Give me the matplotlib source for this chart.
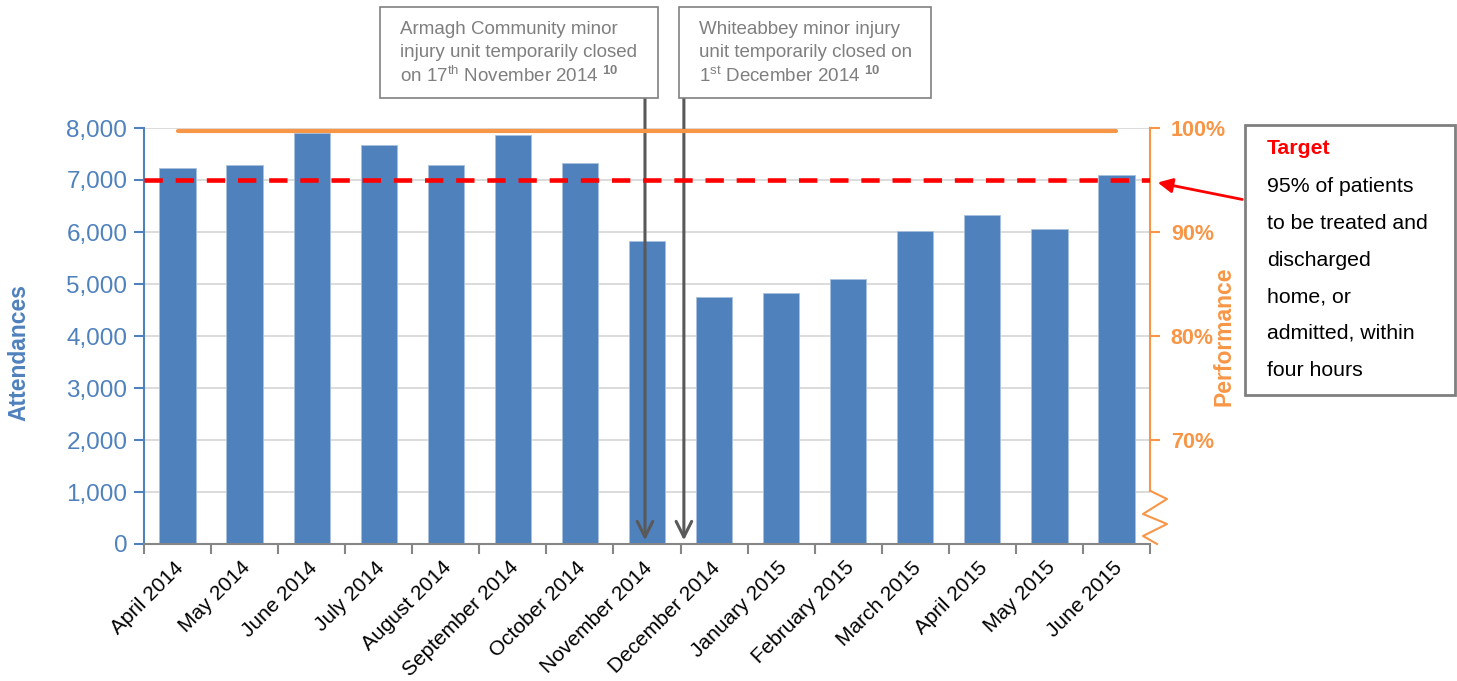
import numpy as np
import matplotlib.pyplot as plt
import matplotlib.transforms as mtransforms
from matplotlib.lines import Line2D
from matplotlib.patches import Rectangle, FancyArrowPatch
from matplotlib.ticker import FuncFormatter

plt.rcParams['font.family'] = ['Liberation Sans', 'DejaVu Sans']
plt.rcParams['mathtext.fontset'] = 'custom'
plt.rcParams['mathtext.rm'] = 'Liberation Sans'
plt.rcParams['mathtext.bf'] = 'Liberation Sans:bold'

# data
months = ['April 2014', 'May 2014', 'June 2014', 'July 2014', 'August 2014',
          'September 2014', 'October 2014', 'November 2014', 'December 2014',
          'January 2015', 'February 2015', 'March 2015', 'April 2015',
          'May 2015', 'June 2015']
attendances = [7240, 7290, 7910, 7670, 7290, 7865, 7330, 5830,
               4750, 4830, 5100, 6010, 6330, 6060, 7100]
performance = [99.7, 99.7, 99.7, 99.7, 99.7, 99.7, 99.7, 99.7,
               99.7, 99.7, 99.7, 99.7, 99.7, 99.7, 99.7]
target = 95

BLUE = '#4F81BD'
ORANGE = '#F79646'
GREY_TXT = '#7F7F7F'

W, H = 1457, 681
fig = plt.figure(figsize=(W / 100, H / 100), dpi=100)

def fx(px):
    return px / W

def fy(py):
    return 1 - py / H

ax = fig.add_axes([fx(144), fy(544), (1150 - 144) / W, (544 - 128) / H])
x = np.arange(len(months))
ax.bar(x, attendances, width=0.54, color=BLUE, edgecolor='#a9c0de', linewidth=0.6, zorder=2)
ax.set_xlim(-0.5, len(months) - 0.5)
ax.set_ylim(0, 8000)
ax.set_yticks(range(0, 8001, 1000))
ax.yaxis.set_major_formatter(FuncFormatter(lambda v, p: f'{int(v):,}'))
ax.grid(axis='y', color='#d9d9d9', lw=1.3, zorder=0)
ax.set_axisbelow(True)
for s in ['top', 'right']:
    ax.spines[s].set_visible(False)
ax.spines['left'].set_color(BLUE)
ax.spines['left'].set_linewidth(1.5)
ax.spines['bottom'].set_color('#868686')
ax.spines['bottom'].set_linewidth(1.5)
ax.tick_params(axis='y', colors=BLUE, labelsize=17.5, length=7, width=1.5, pad=5)
ax.set_xticks(x)
ax.set_xticklabels(months, rotation=45, ha='right', va='top', rotation_mode='anchor', fontsize=15)
ax.tick_params(axis='x', which='major', length=0, pad=10)
shift = mtransforms.ScaledTranslation(-4 / 100, 0, fig.dpi_scale_trans)
for lab in ax.get_xticklabels():
    lab.set_transform(lab.get_transform() + shift)
ax.set_xticks(np.arange(-0.5, len(months), 1), minor=True)
ax.tick_params(axis='x', which='minor', length=7, width=1.5, color='#868686')
ax.set_ylabel('Attendances', color=BLUE, fontweight='bold', fontsize=16.5)
ax.yaxis.set_label_coords(-0.113, 0.46)

ax2 = ax.twinx()
ax2.set_ylim(60, 100)
ax2.set_yticks([70, 80, 90, 100])
ax2.yaxis.set_major_formatter(FuncFormatter(lambda v, p: f'{v:.0f}%'))
for s in ['top', 'left', 'bottom']:
    ax2.spines[s].set_visible(False)
ax2.spines['right'].set_color(ORANGE)
ax2.spines['right'].set_linewidth(1.5)
ax2.spines['right'].set_bounds(65.1, 100)
ax2.tick_params(axis='y', colors=ORANGE, labelsize=15.5, length=7, width=1.5, pad=8)
for lab in ax2.get_yticklabels():
    lab.set_fontweight('bold')
ax2.set_ylabel('Performance', color=ORANGE, fontweight='bold', fontsize=16.5)
ax2.yaxis.set_label_coords(1.062, 0.5)

ax2.plot(x, performance, color=ORANGE, lw=3, solid_capstyle='round', zorder=3)
ax2.axhline(target, color='red', lw=3.3, dashes=(4, 2.8), zorder=4)

# axis break zigzag on the right axis
zx = [1150, 1167, 1143, 1167, 1143, 1157]
zy = [490.7, 499, 514, 524, 536, 544]
fig.add_artist(Line2D([fx(v) for v in zx], [fy(v) for v in zy],
                      transform=fig.transFigure, color=ORANGE, lw=1.5))

# closure annotation boxes
boxes = [
    (380, 658, ['Armagh Community minor', 'injury unit temporarily closed',
                r'on 17$^{\mathrm{th}}$ November 2014 $^{\mathbf{10}}$'], 6.97),
    (679, 931, ['Whiteabbey minor injury', 'unit temporarily closed on',
                r'1$^{\mathrm{st}}$ December 2014 $^{\mathbf{10}}$'], 7.55),
]
for x0, x1, lines, xa in boxes:
    fig.add_artist(Rectangle((fx(x0), fy(98)), (x1 - x0) / W, (98 - 7) / H,
                             transform=fig.transFigure, facecolor='white',
                             edgecolor='#808080', lw=1.2))
    for i, line in enumerate(lines):
        fig.text(fx(x0 + 20), fy(29 + i * 23.5), line, color=GREY_TXT,
                 fontsize=13.5, va='center', ha='left')
    ax.annotate('', xy=(xa, 70), xycoords='data',
                xytext=(xa, fy(98)), textcoords=('data', 'figure fraction'),
                arrowprops=dict(arrowstyle='->', color='#595959', lw=2.2,
                                mutation_scale=28, shrinkA=0, shrinkB=0),
                annotation_clip=False)

# target box
fig.add_artist(Rectangle((fx(1245), fy(395)), (1455 - 1245) / W, (395 - 125) / H,
                         transform=fig.transFigure, facecolor='white',
                         edgecolor='#808080', lw=2))
fig.text(fx(1267), fy(149), 'Target', color='red', fontweight='bold',
         fontsize=15.3, va='center', ha='left')
target_lines = ['95% of patients', 'to be treated and', 'discharged',
                'home, or', 'admitted, within', 'four hours']
for i, line in enumerate(target_lines):
    fig.text(fx(1267), fy(187 + i * 36.6), line, color='black',
             fontsize=15.3, va='center', ha='left')
fig.add_artist(FancyArrowPatch((fx(1245), fy(200)), (fx(1155), fy(182)),
                               transform=fig.transFigure, arrowstyle='-|>',
                               mutation_scale=22, color='red', lw=2))

fig.savefig('out.png', dpi=100)
